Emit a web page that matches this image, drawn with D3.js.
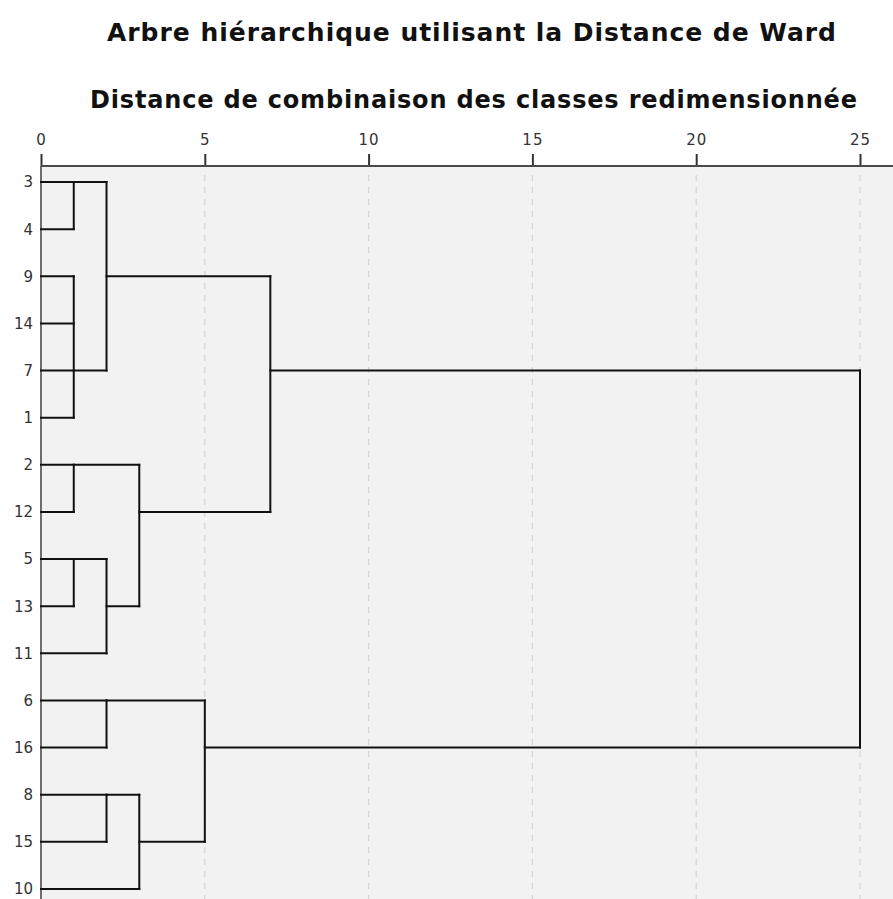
<!DOCTYPE html>
<html>
<head>
<meta charset="utf-8">
<script src="https://cdn.jsdelivr.net/npm/d3@7"></script>
<style>
  body { margin: 0; background: #fff; }
  text { font-family: "DejaVu Sans", sans-serif; }
</style>
</head>
<body>
<div id="app"></div>
<script>
// feuilles de l'arbre, dans l'ordre d'affichage (haut -> bas)
const leaves = ["3", "4", "9", "14", "7", "1", "2", "12", "5", "13", "11", "6", "16", "8", "15", "10"];

// fusions : membres, distance redimensionnee, ligne sur laquelle le groupe continue
const merges = [
  { id: "A", members: ["3", "4"], dist: 1, anchor: "3" },
  { id: "B", members: ["9", "14", "7", "1"], dist: 1, anchor: "7" },
  { id: "C", members: ["A", "B"], dist: 2, anchor: "9" },
  { id: "D", members: ["2", "12"], dist: 1, anchor: "2" },
  { id: "E", members: ["5", "13"], dist: 1, anchor: "5" },
  { id: "F", members: ["E", "11"], dist: 2, anchor: "13" },
  { id: "G", members: ["D", "F"], dist: 3, anchor: "12" },
  { id: "H", members: ["C", "G"], dist: 7, anchor: "7" },
  { id: "I", members: ["6", "16"], dist: 2, anchor: "6" },
  { id: "J", members: ["8", "15"], dist: 2, anchor: "8" },
  { id: "K", members: ["J", "10"], dist: 3, anchor: "15" },
  { id: "L", members: ["I", "K"], dist: 5, anchor: "16" },
  { id: "M", members: ["H", "L"], dist: 25, anchor: "7" }
];

const xTicks = [0, 5, 10, 15, 20, 25];

const title = "Arbre hiérarchique utilisant la Distance de Ward";
const subtitle = "Distance de combinaison des classes redimensionnée";

const width = 893, height = 899;
const plot = { left: 41, top: 166, right: 893, bottom: 899 };

const svg = d3.select("#app")
  .append("svg")
  .attr("width", width)
  .attr("height", height);

const xScale = d3.scaleLinear()
  .domain([0, 25])
  .range([41, 860]);

const yScale = d3.scalePoint()
  .domain(leaves)
  .range([182, 889]);

// fond de la zone du graphique
svg.append("rect")
  .attr("x", plot.left)
  .attr("y", plot.top)
  .attr("width", plot.right - plot.left)
  .attr("height", plot.bottom - plot.top)
  .attr("fill", "#f2f2f2");

// grille pointillee
svg.append("g")
  .selectAll("line")
  .data(xTicks.filter(d => d > 0))
  .enter()
  .append("line")
  .attr("x1", d => xScale(d))
  .attr("x2", d => xScale(d))
  .attr("y1", plot.top + 9)
  .attr("y2", plot.bottom)
  .attr("stroke", "#d4d4d4")
  .attr("stroke-width", 1.2)
  .attr("stroke-dasharray", "6,6");

// bord gauche
svg.append("line")
  .attr("x1", plot.left).attr("x2", plot.left)
  .attr("y1", plot.top).attr("y2", plot.bottom)
  .attr("stroke", "#6e6e6e")
  .attr("stroke-width", 2);

// axe du haut
const xAxis = d3.axisTop(xScale)
  .tickValues(xTicks)
  .tickSize(12)
  .tickPadding(9);

const gAxis = svg.append("g")
  .attr("transform", `translate(0, ${plot.top})`)
  .call(xAxis);

gAxis.select(".domain").remove();
gAxis.append("line")
  .attr("x1", plot.left).attr("x2", plot.right)
  .attr("y1", 0).attr("y2", 0)
  .attr("stroke", "#4a4a4a")
  .attr("stroke-width", 2);
gAxis.selectAll(".tick line")
  .attr("stroke", "#333")
  .attr("stroke-width", 2);
gAxis.selectAll(".tick text")
  .attr("fill", "#333")
  .style("font-size", "15px")
  .style("letter-spacing", "1px")
  .style("font-family", "DejaVu Sans, sans-serif");

// etiquettes des feuilles
svg.append("g")
  .selectAll("text")
  .data(leaves)
  .enter()
  .append("text")
  .attr("x", 33)
  .attr("y", d => yScale(d))
  .attr("dy", "0.36em")
  .attr("text-anchor", "end")
  .attr("fill", "#333")
  .style("font-size", "15px")
  .text(d => d);

// positions de chaque noeud
const pos = {};
leaves.forEach(l => { pos[l] = { y: yScale(l), dist: 0 }; });
merges.forEach(m => { pos[m.id] = { y: yScale(m.anchor), dist: m.dist }; });

const segs = [];
merges.forEach(m => {
  const ys = m.members.map(c => pos[c].y);
  m.members.forEach(c => {
    segs.push({ x1: pos[c].dist, y1: pos[c].y, x2: m.dist, y2: pos[c].y });
  });
  segs.push({ x1: m.dist, y1: d3.min(ys), x2: m.dist, y2: d3.max(ys) });
});

svg.append("g")
  .selectAll("line")
  .data(segs)
  .enter()
  .append("line")
  .attr("x1", d => xScale(d.x1))
  .attr("x2", d => xScale(d.x2))
  .attr("y1", d => d.y1)
  .attr("y2", d => d.y2)
  .attr("stroke", "#111")
  .attr("stroke-width", 2)
  .attr("stroke-linecap", "square");

// titres
svg.append("text")
  .attr("x", 107)
  .attr("y", 41)
  .attr("textLength", 729)
  .attr("lengthAdjust", "spacing")
  .attr("fill", "#111")
  .style("font-size", "25px")
  .style("font-weight", "bold")
  .text(title);

svg.append("text")
  .attr("x", 90)
  .attr("y", 108)
  .attr("textLength", 767)
  .attr("lengthAdjust", "spacing")
  .attr("fill", "#111")
  .style("font-size", "24px")
  .style("font-weight", "bold")
  .text(subtitle);
</script>
</body>
</html>
